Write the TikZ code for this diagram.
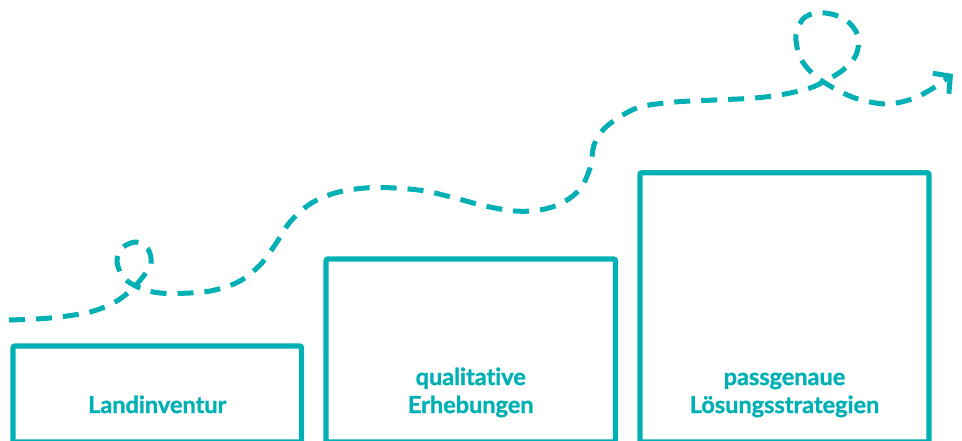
\documentclass[tikz,border=0pt]{standalone}
\usepackage{fontspec}
\setmainfont{Lato}[Ligatures={NoCommon}, BoldFeatures={FakeBold=1.2}]
\usetikzlibrary{arrows.meta}
\definecolor{teal1}{RGB}{0,176,180}
\tikzset{
  stepbox/.style={draw=teal1, line width=5.3pt, rounded corners=2pt, inner sep=0pt},
  steplabel/.style={text=teal1, font=\fontsize{23.5}{28}\selectfont\bfseries, align=center, inner sep=0pt, anchor=base},
  pathline/.style={draw=teal1, line width=5pt, dash pattern=on 16pt off 11pt, line cap=butt}
}
\begin{document}
\begin{tikzpicture}[x=1pt,y=-1pt]
\useasboundingbox (0,0) rectangle (962,440);
\node[stepbox, minimum width=288.5pt, minimum height=96pt] (b1) at (157.25,394) {};
\node[stepbox, minimum width=289.5pt, minimum height=183pt] (b2) at (470.75,350.5) {};
\node[stepbox, minimum width=289pt, minimum height=269.3pt] (b3) at (784.5,307.35) {};
\node[steplabel] (t1) at (157.25,413) {Landinventur};
\node[steplabel] (t2) at (470.75,413) {qualitative\\Erhebungen};
\node[steplabel] (t3) at (784.5,413) {passgenaue\\Lösungsstrategien};
\draw[pathline, -{Straight Barb[length=12pt,width=26pt,line cap=butt]}] plot[smooth, tension=0.55] coordinates {
(9,320) (50,318) (90,312) (115,302) (130,291) (142,278) (151,264) (148,249) (136,242) (122,248) (117,262) (124,278) (140,288) (160,293) (190,293) (215,290) (240,281) (260,265) (275,245) (290,222) (310,204) (335,193) (365,188) (395,188) (425,191) (455,198) (485,206) (515,211) (540,210) (562,203) (580,189) (590,168) (594,145) (603,130) (618,118) (640,107) (675,102) (715,100) (755,98) (785,94) (810,88) (825,81) (843,70) (856,55) (858,36) (846,20) (825,13) (805,17) (796,35) (800,57) (812,73) (830,86) (855,98) (885,104) (912,99) (935,87) (953,74)};
\end{tikzpicture}
\end{document}
